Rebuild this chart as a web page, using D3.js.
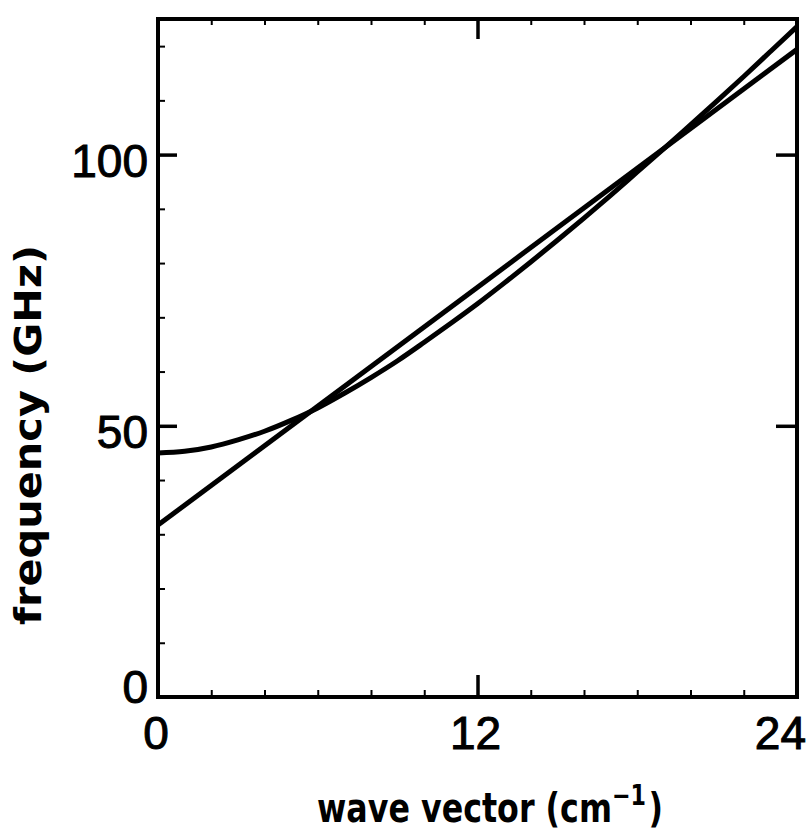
<!DOCTYPE html>
<html>
<head>
<meta charset="utf-8">
<script src="https://cdn.jsdelivr.net/npm/d3@7"></script>
<style>
  body { margin: 0; background: #fff; }
  svg { display: block; }
  text { fill: #000; }
</style>
</head>
<body>
<div id="chart"></div>
<script>
// dispersion curve
const waveVector = [0, 1, 2, 3, 4, 5, 6, 7, 8, 9, 10, 11, 12, 13, 14, 15, 16, 17, 18, 19, 20, 21, 22, 23, 24];
const curveFreq = [45.0, 45.3, 46.1, 47.4, 49.0, 51.0, 53.3, 56.0, 58.9, 62.0, 65.4, 68.9, 72.5,
                   76.3, 80.2, 84.2, 88.3, 92.5, 96.8, 101.1, 105.5, 109.9, 114.4, 119.0, 123.6];
// straight line (end points)
const lineK = [0, 24];
const lineFreq = [31.7, 119.4];

const xMajor = [0, 12, 24];
const xMinor = [2, 4, 6, 8, 10, 14, 16, 18, 20, 22];
const yMajor = [0, 50, 100];
const yMinor = [10, 20, 30, 40, 60, 70, 80, 90, 110, 120];

const width = 810, height = 833;
const margin = {top: 19, right: 13, bottom: 136, left: 158};

const svg = d3.select("#chart").append("svg")
    .attr("width", width)
    .attr("height", height);

const x = d3.scaleLinear().domain([0, 24]).range([margin.left, width - margin.right]);
const y = d3.scaleLinear().domain([0, 125]).range([height - margin.bottom, margin.top]);

const x0 = x.range()[0], x1 = x.range()[1];
const y0 = y.range()[0], y1 = y.range()[1];

// ticks, all pointing inward
function ticks(axis, pos, values, size, sw) {
    const g = svg.append("g")
        .attr("transform", pos)
        .call(axis.tickValues(values).tickSize(size).tickFormat(""));
    g.select(".domain").remove();
    g.selectAll(".tick line").attr("stroke", "#000").attr("stroke-width", sw);
    return g;
}
ticks(d3.axisBottom(x), `translate(0,${y0})`, xMinor, -7, 2);
ticks(d3.axisBottom(x), `translate(0,${y0})`, [12], -22, 3.5);
ticks(d3.axisTop(x), `translate(0,${y1})`, xMinor, -6, 2);
ticks(d3.axisTop(x), `translate(0,${y1})`, [12], -20, 3.5);
ticks(d3.axisLeft(y), `translate(${x0},0)`, yMinor, -7, 2);
ticks(d3.axisLeft(y), `translate(${x0},0)`, [50, 100], -19, 3.5);
ticks(d3.axisRight(y), `translate(${x1},0)`, [50, 100], -21, 3.5);

// frame
svg.append("rect")
    .attr("x", x0).attr("y", y1)
    .attr("width", x1 - x0).attr("height", y0 - y1)
    .attr("fill", "none")
    .attr("stroke", "#000")
    .attr("stroke-width", 4);

// curves
const curveLine = d3.line()
    .x((d, i) => x(waveVector[i]))
    .y(d => y(d))
    .curve(d3.curveMonotoneX);

svg.append("path")
    .datum(curveFreq)
    .attr("d", curveLine)
    .attr("fill", "none")
    .attr("stroke", "#000")
    .attr("stroke-width", 5);

const straight = d3.line()
    .x((d, i) => x(lineK[i]))
    .y(d => y(d));

svg.append("path")
    .datum(lineFreq)
    .attr("d", straight)
    .attr("fill", "none")
    .attr("stroke", "#000")
    .attr("stroke-width", 5);

// tick labels
const labelFont = "'Liberation Sans', Arial, sans-serif";

svg.append("g").selectAll("text")
    .data(xMajor)
    .join("text")
    .attr("x", d => d === 24 ? x(d) + 9 : x(d) - 2)
    .attr("y", y0 + 52)
    .attr("text-anchor", d => d === 24 ? "end" : "middle")
    .attr("font-family", labelFont)
    .attr("font-size", 46)
    .attr("stroke", "#000")
    .attr("stroke-width", 1)
    .text(d => d);

svg.append("g").selectAll("text")
    .data(yMajor)
    .join("text")
    .attr("x", x0 - 10)
    .attr("y", d => y(d) + (d === 0 ? 6 : 22))
    .attr("text-anchor", "end")
    .attr("font-family", labelFont)
    .attr("font-size", 46)
    .attr("stroke", "#000")
    .attr("stroke-width", 1)
    .text(d => d);

// axis titles, squeezed horizontally to the reference width
const titleFont = "'DejaVu Sans', sans-serif";

const xg = svg.append("g");
const xt = xg.append("text")
    .attr("font-family", titleFont)
    .attr("font-weight", "bold")
    .attr("font-size", 40);
xt.append("tspan").text("wave  vector (cm");
xt.append("tspan").attr("dy", -17).attr("font-size", 28).text("\u22121");
xt.append("tspan").attr("dy", 17).attr("dx", 3).text(")");
const xw = xt.node().getBBox().width;
xg.attr("transform", `translate(317,822) scale(${346 / xw},1)`);

const yg = svg.append("g");
const yt = yg.append("text")
    .attr("text-anchor", "middle")
    .attr("font-family", titleFont)
    .attr("font-weight", "bold")
    .attr("font-size", 38)
    .text("frequency  (GHz)");
const yw = yt.node().getBBox().width;
yg.attr("transform", `translate(41,435) rotate(-90) scale(${380 / yw},1)`);
</script>
</body>
</html>
